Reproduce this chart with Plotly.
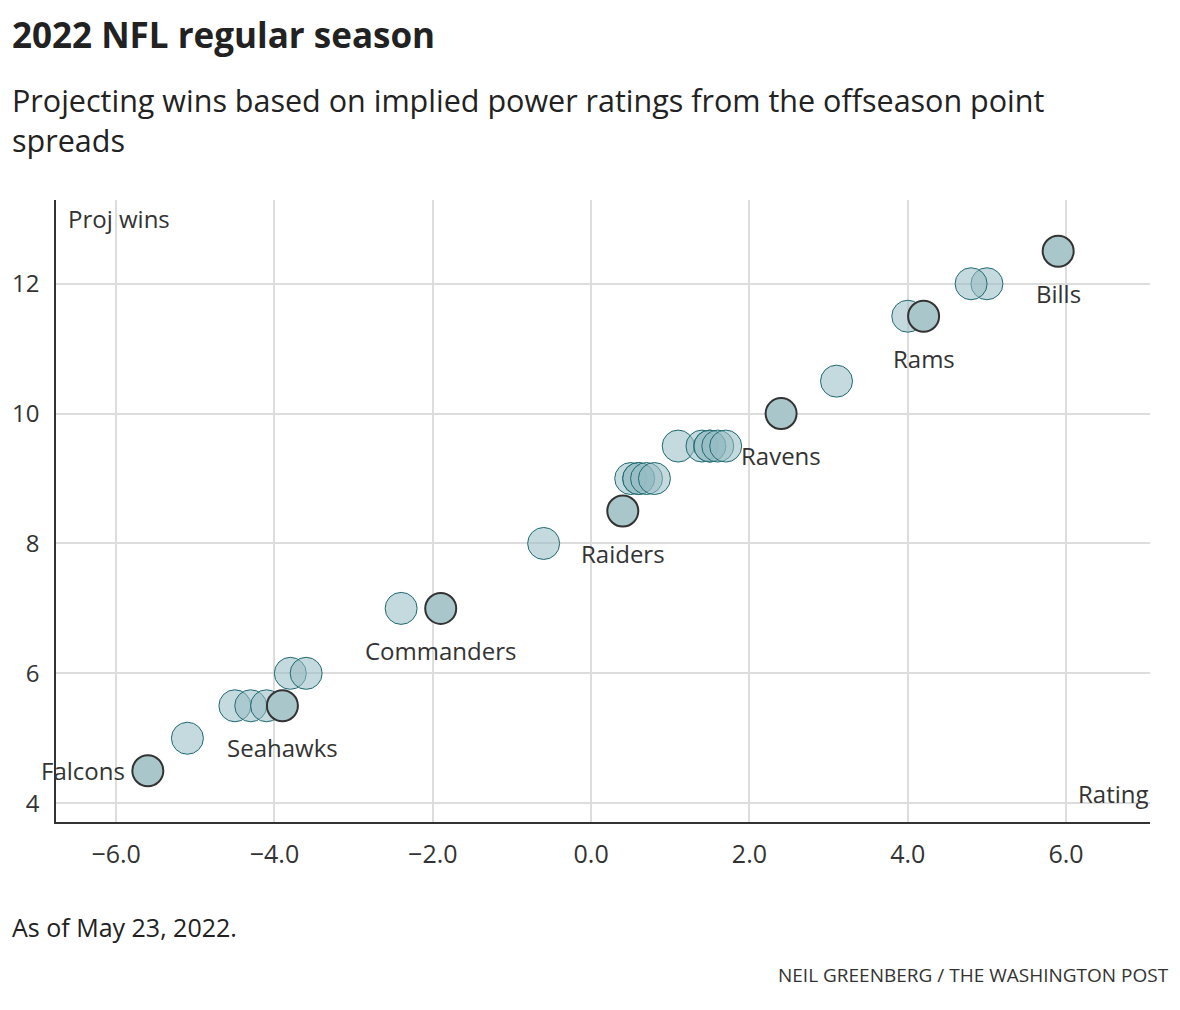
import plotly.graph_objects as go

# Data
ratings = [5.0, 4.8, 4.0, 3.1, 1.1, 1.4, 1.5, 1.5, 1.6, 1.7,
           0.5, 0.6, 0.6, 0.7, 0.8, -0.6, -2.4, -3.8, -3.6,
           -4.5, -4.3, -4.1, -5.1]
proj_wins = [12, 12, 11.5, 10.5, 9.5, 9.5, 9.5, 9.5, 9.5, 9.5,
             9, 9, 9, 9, 9, 8, 7, 6, 6,
             5.5, 5.5, 5.5, 5]

hl_teams = ["Bills", "Rams", "Ravens", "Raiders", "Commanders", "Seahawks", "Falcons"]
hl_ratings = [5.9, 4.2, 2.4, 0.4, -1.9, -3.9, -5.6]
hl_wins = [12.5, 11.5, 10, 8.5, 7, 5.5, 4.5]

x_ticks = [-6, -4, -2, 0, 2, 4, 6]
y_ticks = [4, 6, 8, 10, 12]

FONT = "Open Sans"
DARK = "#333333"
L, R, T, B = 54, 1150, 200, 822

fig = go.Figure()
fig.add_trace(go.Scatter(
    x=ratings, y=proj_wins, mode="markers",
    marker=dict(size=32, color="rgba(150,188,194,0.55)",
                line=dict(color="#1f6a72", width=1)),
    hoverinfo="x+y", showlegend=False))
fig.add_trace(go.Scatter(
    x=hl_ratings, y=hl_wins, mode="markers", text=hl_teams,
    marker=dict(size=31, color="#a9c6ca",
                line=dict(color=DARK, width=2)),
    hoverinfo="text+x+y", showlegend=False))


def px(xp, yp):
    return ((xp - L) / (R - L), (B - yp) / (B - T))


LABEL = 24
annotations = []
for t, xv, yv in zip(hl_teams, hl_ratings, hl_wins):
    if t == "Falcons":
        annotations.append(dict(x=xv, y=yv, xref="x", yref="y", text=t,
                                showarrow=False, xanchor="right", yanchor="middle",
                                xshift=-21, font=dict(size=LABEL, color=DARK, family=FONT)))
    else:
        annotations.append(dict(x=xv, y=yv, xref="x", yref="y", text=t,
                                showarrow=False, xanchor="center", yanchor="middle",
                                yshift=-42, font=dict(size=LABEL, color=DARK, family=FONT)))


def paper_text(text, xp, yp, anchor, size, color="#222222", align="left"):
    x0, y0 = px(xp, yp)
    return dict(text=text, x=x0, y=y0, xref="paper", yref="paper",
                xanchor=anchor, yanchor="middle", align=align, showarrow=False,
                font=dict(size=size, color=color, family=FONT))


annotations.append(paper_text("<b>2022 NFL regular season</b>", 8, 34, "left", 35))
annotations.append(paper_text(
    "Projecting wins based on implied power ratings from the offseason point<br>spreads",
    8, 120, "left", 30.5))
annotations.append(paper_text("Proj wins", 64, 218, "left", 24, DARK))
annotations.append(paper_text("Rating", 1151, 793, "right", 24, DARK))
annotations.append(paper_text("As of May 23, 2022.", 8, 927, "left", 25))
annotations.append(paper_text("NEIL GREENBERG / THE WASHINGTON POST", 1171, 975, "right", 19, DARK))

fig.update_layout(
    annotations=annotations,
    width=1180, height=1010,
    margin=dict(l=L, r=1180 - R, t=T, b=1010 - B),
    paper_bgcolor="white", plot_bgcolor="white",
    font=dict(family=FONT, color=DARK),
    xaxis=dict(range=[-6.76, 7.06], tickvals=x_ticks, tickformat=".1f",
               showgrid=True, gridcolor="#dddddd", gridwidth=1.5, zeroline=False,
               showline=True, linecolor=DARK, linewidth=2, ticks="",
               tickfont=dict(size=25, color=DARK, family=FONT), ticklabelstandoff=9),
    yaxis=dict(range=[3.71, 13.29], tickvals=y_ticks,
               showgrid=True, gridcolor="#dddddd", gridwidth=1.5, zeroline=False,
               showline=True, linecolor=DARK, linewidth=1.5, ticks="",
               tickfont=dict(size=24, color=DARK, family=FONT), ticklabelstandoff=10),
)

fig.write_html("out.html")
